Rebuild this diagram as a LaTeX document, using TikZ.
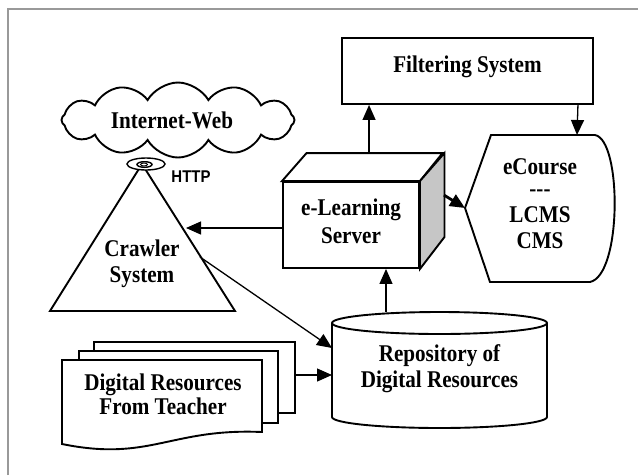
\documentclass[tikz,border=0pt]{standalone}
\usepackage{fontspec}
\setmainfont[FakeStretch=0.88]{Liberation Serif}
\newfontfamily\httpfont[FakeStretch=0.88]{Liberation Sans}
\usetikzlibrary{arrows.meta,shapes.symbols,calc}
\begin{document}
\begin{tikzpicture}[x=1pt,y=-1pt,
  shapeline/.style={line width=1.9pt, line join=miter},
  arr/.style={line width=1.3pt, -{Triangle[length=15pt,width=13pt]}},
  thickarr/.style={line width=2.8pt, -{Triangle[length=15pt,width=13pt]}},
  lbl/.style={font=\fontsize{24}{26}\selectfont\bfseries, align=center, inner sep=0pt},
]
\useasboundingbox (0,0) rectangle (638,475);
\draw[gray!80, line width=1.2pt] (8,475) -- (8,9) -- (638,9);

% Filtering system
\node[draw, shapeline, minimum width=251pt, minimum height=66pt] (filt) at (467.5,71) {};
\node[lbl] (filttxt) at (467.5,67) {Filtering System};

% e-Learning server (cube)
\node[draw, shapeline, fill=white, minimum width=136pt, minimum height=86pt] (srv) at (351,225) {};
\node[lbl, font=\fontsize{24}{28}\selectfont\bfseries] (srvtxt) at (351,221) {e-Learning\\Server};
\draw[shapeline, fill=white] (srv.north west) -- ++(24.5,-28) -- ++(136,0) -- (srv.north east) -- cycle;
\draw[shapeline, fill=gray!45] (srv.north east) -- ++(24.5,-28) -- ++(0,84) -- (srv.south east) -- cycle;

% eCourse display shape
\coordinate (ecL) at (465,208);
\coordinate (ecTop) at (577,135);
\draw[shapeline, fill=white] (ecL) -- (491,135) -- (595,135) .. controls (622,140) and (622,275) .. (590,282) -- (490,282) -- cycle;
\node[lbl] (ecourse) at (540,204) {eCourse\\[-4pt]{-}{-}{-}\\LCMS\\CMS};

% Repository cylinder
\node[minimum width=215pt, minimum height=116pt, inner sep=0pt] (repo) at (439.5,370) {};
\draw[shapeline, fill=white] (332,323) -- (332,417) arc[start angle=180, end angle=360, x radius=107.5pt, y radius=11pt] -- (547,323) arc[start angle=0, end angle=180, x radius=107.5pt, y radius=11pt] -- cycle;
\draw[shapeline] (332,323) arc[start angle=180, end angle=360, x radius=107.5pt, y radius=11pt];
\node[lbl] (repotxt) at (439.5,369) {Repository of\\Digital Resources};

% Cloud
\node[cloud, draw, shapeline, fill=white, cloud puffs=12, cloud puff arc=120, aspect=3.1, minimum width=233pt, minimum height=75pt] (web) at (178,120) {};
\node[lbl] (webtxt) at (172,120) {Internet-Web};

% Crawler triangle
\coordinate (apex) at (142,164);
\draw[shapeline, fill=white] (apex) -- (235,311) -- (50,311) -- cycle;
\node[lbl] (crawl) at (142,264) {Crawler\\System};

% HTTP port
\draw[line width=1.4pt, fill=white] (146,164) ellipse [x radius=19pt, y radius=6pt];
\draw[line width=1.4pt] (144.5,164.5) ellipse [x radius=7.5pt, y radius=2.8pt];
\draw[line width=1pt] (144,164.5) ellipse [x radius=3.5pt, y radius=1.5pt];
\node[font=\httpfont\bfseries\fontsize{17}{17}\selectfont, inner sep=0pt] (http) at (191,177) {HTTP};

% Digital resources (multi-document)
\draw[shapeline, fill=white] (94,342) rectangle (295,413);
\draw[shapeline, fill=white] (79,351) rectangle (278,423);
\draw[shapeline, fill=white] (62,360) -- (262,360) -- (262,432) .. controls (170,428) and (150,462) .. (62,444) -- cycle;
\node[lbl, font=\fontsize{24}{24}\selectfont\bfseries] (docs) at (163,394) {Digital Resources\\From Teacher};

% connector end points
\coordinate (crawlR) at (186,228);
\coordinate (crawlOut) at (200,257);
\coordinate (repoIn1) at (332,348);
\coordinate (repoIn2) at (332,375);
\coordinate (docsOut) at (295,375);

% Connectors
\draw[arr] ($(srv.north west)+(87,-28)$) -- ($(filt.south west)+(28,0)$);
\draw[arr] ($(filt.south east)+(-16,0)$) -- (ecTop);
\draw[thickarr] ($(srv.north east)+(24,14)$) -- (ecL);
\draw[arr] ($(srv.west)+(0,3)$) -- (crawlR);
\draw[arr] (crawlOut) -- (repoIn1);
\draw[arr] (docsOut) -- (repoIn2);
\draw[arr] ($(repo.north)+(-53.5,0)$) -- ($(srv.south)+(35,0)$);
\end{tikzpicture}
\end{document}
